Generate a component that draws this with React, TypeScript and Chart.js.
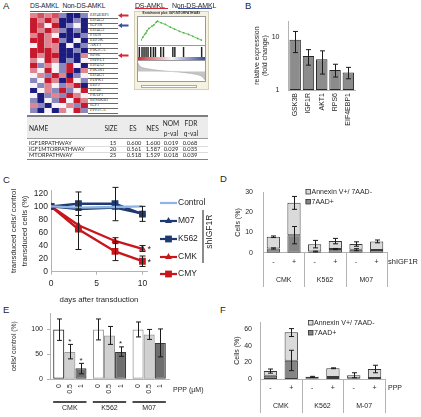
import React, { useEffect, useRef } from 'react';
import { Chart, registerables } from 'chart.js';

Chart.register(...registerables);

const SANS = '"Liberation Sans", Arial, sans-serif';
const SERIF = '"Liberation Serif", "DejaVu Serif", serif';
const TFONT = 'Lato, "Open Sans", sans-serif';
const INK = '#262626';
const AXIS = '#b3b3b3';

Chart.defaults.font.family = SANS;
Chart.defaults.color = INK;

// ---------------- DATA ----------------
// Panel A heatmap
const HEAT_GENES = ['EIF4EBP1', 'EIF4G2', 'IGF1R', 'EIF4G3', 'PTEN', 'EEF2K', 'AKT1', 'PIK3CA', 'RPS6', 'INPPL1',
  'EIF4A2', 'PIK3R1', 'EIF4G1', 'PDPK1', 'EEF2', 'EIF4E', 'FRAP1', 'RPS6KB1', 'IGF1', 'PPP2CA'];
const HEAT_SAMPLES = ['DS1', 'DS2', 'DS3', 'DS4', 'NDS1', 'NDS2', 'NDS3', 'NDS4'];
const HEAT_VALUES = [
  [1, 1.5, 1, 1.5, -1, -2, -2, -1],
  [2, 1, 2, 1, -2, -2, -1, -2],
  [2, 1.5, 0, 2, -2, -1, 0, -2],
  [2, 1, 2, 1, -1, -2, -1, -2],
  [1, 2, 1, 0, -2, -2, -2, -1],
  [2, 2, 1, 2, -1, -2, 0, -2],
  [0, 2, 1, 1, -2, 0, -2, -1],
  [2, 2, 2, 1, -2, -2, -1, -2],
  [2, 1, 2, 2, -2, -2, -2, 1],
  [1, 0, 2, 1, -2, -1, -2, 0],
  [2, -1, 1, 0, -1, 2, 0, -2],
  [1, 0, 2, 0, -1, 2, -2, 1],
  [0, 1, -1, 2, 1, -2, -1, 0],
  [-1, 0, 2, 1, -2, 2, 0, -1],
  [0, -1, 1, 0, -1, 1, 2, -2],
  [-2, 0, 1, -1, 2, -1, 0, 2],
  [0, -2, -1, 1, -1, 2, 1, 0],
  [-1, -2, 0, -1, 2, 0, 2, 1],
  [1, -1, -2, 0, 0, 1, -1, 2],
  [-1, -2, 0, -2, 1, 0, 2, -1],
];
const ARROW_ROWS = [0, 2, 8];
const ARROW_COLORS = ['#d42a34', '#3b4ea0', '#d42a34'];

// GSEA enrichment plot
const GSEA_RANK = [0, 3, 6, 8, 10, 13, 18, 21, 25, 27, 33, 40, 48, 55, 63, 70, 78, 85, 93, 99];
const GSEA_ES = [0.0, 0.09, 0.18, 0.22, 0.3, 0.37, 0.44, 0.48, 0.57, 0.6, 0.55, 0.5, 0.41, 0.35, 0.28, 0.23, 0.18, 0.12, 0.05, 0.0];
const GSEA_HITS = [2, 6, 9, 12, 15, 19, 23, 26, 34, 38, 52, 55, 68, 95];
const GSEA_METRIC_RANK = [0, 2, 5, 10, 20, 30, 40, 50, 60, 70, 80, 90, 95, 98, 100];
const GSEA_METRIC = [0.9, 0.6, 0.45, 0.35, 0.22, 0.12, 0.05, 0, -0.05, -0.12, -0.22, -0.35, -0.5, -0.7, -0.9];

// Table
const TABLE_NAMES = ['IGF1RPATHWAY', 'IGF1MTORPATHWAY', 'MTORPATHWAY'];
const TABLE_SIZE = ['15', '20', '25'];
const TABLE_ES = ['0.600', '0.561', '0.518'];
const TABLE_NES = ['1.600', '1.587', '1.529'];
const TABLE_NOM = ['0.019', '0.029', '0.018'];
const TABLE_FDR = ['0.068', '0.035', '0.039'];

// Panel B
const B_GENES = ['GSK3B', 'IGF1R', 'AKT1', 'RPS6', 'EIF4EBP1'];
const B_FOLD = [8.9, 4.4, 3.8, 2.4, 2.15];
const B_ERR: [number, number][] = [[5.1, 12.8], [2.95, 5.8], [2.0, 5.5], [1.76, 3.07], [1.63, 2.68]];
const B_TICKS = [1, 10];

// Panel C
const C_DAYS = [0, 3, 7, 10];
const C_CONTROL = [100, 98, 99, 100];
const C_M07 = [100, 96, 98, 89];
const C_K562 = [100, 104, 104, 88];
const C_CMK = [100, 71, 47, 35];
const C_CMY = [100, 65, 31, 16];
const C_K562_ERR = [null, [86, 122], [78, 129], [77, 100]];
const C_CMK_ERR = [null, null, [43, 52], [31, 40]];
const C_CMY_ERR = [null, [34, 96], [17, 46], [8, 24]];
const C_TICKS_Y = [0, 20, 40, 60, 80, 100, 120];
const C_TICKS_X = [0, 5, 10];

// Panel D
const D_GROUPS = ['CMK', 'K562', 'M07'];
const D_SUB = ['-', '+', '-', '+', '-', '+'];
const D_7AAD = [2.1, 8.7, 0.6, 1.8, 1.5, 1.4];
const D_ANNEXIN = [5.8, 16.1, 3.6, 4.0, 2.8, 4.2];
const D_ERR_TOTAL = [[7.5, 8.3], [21.5, 27.9], [2.4, 6.1], [4.4, 7.1], [3.2, 5.4], [4.9, 6.3]];
const D_ERR_7AAD = [[1.8, 2.4], [4.4, 13], [0.4, 0.8], [1.5, 2.1], [1.0, 2.0], null];

// Panel E
const E_GROUPS = ['CMK', 'K562', 'M07'];
const E_DOSES = ['0', '0.5', '1'];
const E_DOSE0 = [100, 100, 100];
const E_DOSE05 = [55, 88, 90];
const E_DOSE1 = [22, 55, 73];
const E_ERR0 = [[78, 121], [79, 121], [85, 115]];
const E_ERR05 = [[41, 70], [70, 106], [80, 100]];
const E_ERR1 = [[11, 32], [46, 65], [45, 101]];
const E_STARS = [[1, 0], [2, 0], [2, 1]];

// Panel F
const F_GROUPS = ['CMK', 'K562', 'M-07'];
const F_SUB = ['-', '+', '-', '+', '-', '+'];
const F_7AAD = [3.8, 22, 0.9, 2.3, 0.9, 1.3];
const F_ANNEXIN = [5.7, 34, 1.7, 10.7, 3.6, 10.7];
const F_ERR_TOTAL = [[7, 12], [51, 60.5], [2, 3.2], [12.4, 13.4], [1.5, 7.5], [7.5, 16.5]];
const F_ERR_7AAD = [null, [10, 34.5], null, null, null, null];

// ---------------- HELPERS ----------------
function heatColor(v: number) {
  const t = Math.max(-1, Math.min(1, v / 2));
  const w = [246, 242, 246];
  const tgt = t > 0 ? [200, 24, 44] : [28, 28, 128];
  const k = Math.abs(t);
  const c = w.map((x, i) => Math.round(x + (tgt[i] - x) * k));
  return `rgb(${c[0]},${c[1]},${c[2]})`;
}

function errorPlugin(list: { ds: number; err: any[]; color?: string; cap?: number }[]) {
  return {
    id: 'errbars',
    afterDatasetsDraw(chart: any) {
      const ctx = chart.ctx;
      list.forEach(({ ds, err, color, cap }) => {
        const meta = chart.getDatasetMeta(ds);
        const ys = chart.scales[meta.yAxisID];
        ctx.save();
        ctx.strokeStyle = color || '#1a1a1a';
        ctx.lineWidth = 1;
        meta.data.forEach((el: any, i: number) => {
          const e = err[i];
          if (!e) return;
          const x = Math.round(el.x) + 0.5;
          const y1 = ys.getPixelForValue(e[0]);
          const y2 = ys.getPixelForValue(e[1]);
          const c = cap ?? 2.5;
          ctx.beginPath();
          ctx.moveTo(x, y1); ctx.lineTo(x, y2);
          ctx.moveTo(x - c, y1); ctx.lineTo(x + c, y1);
          ctx.moveTo(x - c, y2); ctx.lineTo(x + c, y2);
          ctx.stroke();
        });
        ctx.restore();
      });
    },
  };
}

function drawMarker(ctx: any, style: string, x: number, y: number, r: number, color: string) {
  ctx.fillStyle = color;
  ctx.beginPath();
  if (style === 'rect') {
    const s = Math.SQRT1_2 * r;
    ctx.rect(x - s, y - s, 2 * s, 2 * s);
  } else if (style === 'triangle') {
    ctx.moveTo(x, y - r);
    ctx.lineTo(x + 0.866 * r, y + 0.5 * r);
    ctx.lineTo(x - 0.866 * r, y + 0.5 * r);
    ctx.closePath();
  }
  ctx.fill();
}

const base = (extra: any = {}) => ({
  responsive: false,
  animation: false,
  events: [],
  plugins: { legend: { display: false }, tooltip: { enabled: false } },
  ...extra,
});

function ChartCanvas({ x, y, w, h, make }: any) {
  const ref = useRef<HTMLCanvasElement>(null);
  useEffect(() => {
    const c = new Chart(ref.current as HTMLCanvasElement, make());
    return () => c.destroy();
  }, []);
  return (
    <canvas ref={ref} width={w} height={h}
      style={{ position: 'absolute', left: x, top: y, width: w, height: h }} />
  );
}

function T({ x, y, s, c = INK, a = 'l', f = SANS, b = false, ls = 0, children }: any) {
  const tx = a === 'c' ? '-50%' : a === 'r' ? '-100%' : '0';
  return (
    <div style={{
      position: 'absolute', left: x, top: y, fontSize: s, lineHeight: 1, fontFamily: f, color: c,
      whiteSpace: 'nowrap', fontWeight: b ? 'bold' : 'normal', letterSpacing: ls,
      transform: `translate(${tx},-50%)`,
    }}>{children}</div>
  );
}

function Rect({ x, y, w, h, bg, style = {} }: any) {
  return <div style={{ position: 'absolute', left: x, top: y, width: w, height: h, background: bg, ...style }} />;
}

// ---------------- CHART CONFIGS ----------------
const heatConfig = () => ({
  type: 'bar',
  data: {
    labels: HEAT_SAMPLES,
    datasets: HEAT_VALUES.map((row, r) => ({
      label: HEAT_GENES[r],
      data: row.map(() => 1),
      backgroundColor: row.map(heatColor),
      borderColor: 'rgba(190,190,200,0.55)',
      borderWidth: 0.4,
      borderSkipped: false,
      barPercentage: 1,
      categoryPercentage: 1,
    })).reverse(),
  },
  options: base({
    layout: { padding: 0 },
    scales: {
      x: { display: false, stacked: true },
      y: { display: false, stacked: true, min: 0, max: HEAT_GENES.length },
    },
  }),
});

const esConfig = () => ({
  type: 'line',
  data: {
    datasets: [{
      data: GSEA_RANK.map((x, i) => ({ x, y: GSEA_ES[i] })),
      borderColor: '#4fb848', borderWidth: 0.8, pointRadius: 0.9,
      pointBackgroundColor: '#4fb848', pointBorderWidth: 0,
    }],
  },
  options: base({
    layout: { padding: { left: 1, right: 1, top: 1, bottom: 1 } },
    scales: {
      x: { type: 'linear', min: 0, max: 100, display: false },
      y: { min: -0.03, max: 0.64, display: false },
    },
  }),
});

const hitsConfig = () => ({
  type: 'bar',
  data: { datasets: [{ data: GSEA_HITS.map((x) => ({ x, y: 1 })), backgroundColor: '#222', barThickness: 0.8 }] },
  options: base({
    layout: { padding: { left: 1, right: 1, top: 1, bottom: 0 } },
    scales: {
      x: { type: 'linear', min: 0, max: 100, display: false, offset: false },
      y: { min: 0, max: 1, display: false },
    },
  }),
});

const rankConfig = () => ({
  type: 'line',
  data: {
    datasets: [{
      data: GSEA_METRIC_RANK.map((x, i) => ({ x, y: GSEA_METRIC[i] })),
      borderColor: '#9a9a9a', borderWidth: 0.5, pointRadius: 0, fill: 'origin', backgroundColor: '#c4c4c4',
    }],
  },
  options: base({
    layout: { padding: { left: 1, right: 1, top: 1, bottom: 1 } },
    scales: {
      x: { type: 'linear', min: 0, max: 100, display: false },
      y: { min: -1, max: 1, display: false },
    },
  }),
});

const bConfig = () => ({
  type: 'bar',
  data: {
    labels: B_GENES,
    datasets: [{
      data: B_FOLD, backgroundColor: '#8c8c8c', borderColor: '#262626', borderWidth: 1,
      borderSkipped: false, barPercentage: 0.86, categoryPercentage: 1,
    }],
  },
  plugins: [errorPlugin([{ ds: 0, err: B_ERR, cap: 2.5 }])],
  options: base({
    layout: { padding: { left: 0, right: 6, top: 8, bottom: 0 } },
    scales: {
      x: {
        grid: { display: false, drawTicks: false }, border: { color: AXIS },
        ticks: { font: { size: 7 }, minRotation: 90, maxRotation: 90, padding: 3, autoSkip: false },
        afterFit(s: any) { s.height = 46; },
      },
      y: {
        type: 'logarithmic', min: 1, max: 20,
        grid: { display: false, drawTicks: false }, border: { color: AXIS },
        ticks: { font: { size: 7 }, padding: 9, callback: (v: any) => String(v) },
        afterBuildTicks(s: any) { s.ticks = B_TICKS.map((v) => ({ value: v })); },
        title: { display: true, text: ['relative expression', '(fold change)'], font: { size: 7 }, padding: { top: 16.8, bottom: 0 } },
        afterFit(s: any) { s.width = 52.5; },
      },
    },
  }),
});

const C_SERIES = [
  { label: 'Control', values: C_CONTROL, color: '#8eb4e3', style: 'circle', radius: 0 },
  { label: 'M07', values: C_M07, color: '#1f3a6e', style: 'triangle', radius: 4 },
  { label: 'K562', values: C_K562, color: '#1f3a6e', style: 'rect', radius: 4.8 },
  { label: 'CMK', values: C_CMK, color: '#c8161d', style: 'triangle', radius: 4 },
  { label: 'CMY', values: C_CMY, color: '#c8161d', style: 'rect', radius: 4.8 },
];

const cConfig = () => ({
  type: 'line',
  data: {
    datasets: C_SERIES.map((s) => ({
      label: s.label,
      data: C_DAYS.map((d, i) => ({ x: d, y: s.values[i] })),
      borderColor: s.color, backgroundColor: s.color, borderWidth: 2.4,
      pointStyle: s.style, pointRadius: s.radius, pointBackgroundColor: s.color, pointBorderWidth: 0,
    })),
  },
  plugins: [
    errorPlugin([
      { ds: 2, err: C_K562_ERR, cap: 3 },
      { ds: 3, err: C_CMK_ERR, cap: 3 },
      { ds: 4, err: C_CMY_ERR, cap: 3 },
    ]),
    {
      id: 'cExtras',
      afterDraw(chart: any) {
        const ctx = chart.ctx;
        const ys = [23, 41, 59, 77, 94];
        C_SERIES.forEach((s, i) => {
          const y = ys[i];
          ctx.save();
          ctx.strokeStyle = s.color; ctx.lineWidth = 2.2;
          ctx.beginPath(); ctx.moveTo(160, y); ctx.lineTo(177, y); ctx.stroke();
          if (s.radius > 0) drawMarker(ctx, s.style, 168.5, y, s.radius, s.color);
          ctx.fillStyle = INK; ctx.font = `8.5px ${SANS}`; ctx.textBaseline = 'middle'; ctx.textAlign = 'left';
          ctx.fillText(s.label, 178, y);
          ctx.restore();
        });
        ctx.save();
        ctx.fillStyle = '#8c8c8c';
        ctx.fillRect(202, 30, 2, 53);
        ctx.fillStyle = INK; ctx.font = `8.5px ${SANS}`;
        ctx.translate(210, 51.7); ctx.rotate(-Math.PI / 2);
        ctx.textAlign = 'center'; ctx.textBaseline = 'middle';
        ctx.fillText('shIGF1R', 0, 0);
        ctx.restore();
        ctx.save();
        ctx.fillStyle = INK; ctx.font = `9px ${SANS}`; ctx.textAlign = 'left'; ctx.textBaseline = 'middle';
        [3, 4].forEach((di) => {
          const el = chart.getDatasetMeta(di).data[3];
          ctx.fillText('*', el.x + 5, el.y + 1);
        });
        ctx.restore();
      },
    },
  ],
  options: base({
    layout: { padding: { left: 0, right: 68, top: 10, bottom: 0 } },
    scales: {
      x: {
        type: 'linear', min: 0, max: 10.5,
        grid: { display: true, drawOnChartArea: false, drawTicks: true, tickLength: 3, color: AXIS },
        border: { color: AXIS },
        ticks: { font: { size: 8.5 }, padding: 4 },
        afterBuildTicks(s: any) { s.ticks = C_TICKS_X.map((v) => ({ value: v })); },
        title: { display: true, text: 'days after transduction', font: { size: 7.8 }, padding: { top: 0, bottom: 1.2 } },
        afterFit(s: any) { s.height = 34.3; },
      },
      y: {
        min: 0, max: 125,
        grid: { display: false, drawTicks: false }, border: { color: AXIS },
        ticks: { font: { size: 8.5 }, padding: 3 },
        afterBuildTicks(s: any) { s.ticks = C_TICKS_Y.map((v) => ({ value: v })); },
        title: {
          display: true, text: ['transduced cells/ control', 'transduced cells (%)'],
          font: { size: 7.8, lineHeight: 1.4 }, padding: { top: 8.5, bottom: 0 },
        },
        afterFit(s: any) { s.width = 51; },
      },
    },
  }),
});

function stackedConfig(p: any) {
  return () => ({
    type: 'bar',
    data: {
      labels: p.sub.map((s: string, i: number) => `${p.groups[Math.floor(i / 2)]} ${s}`),
      datasets: [
        { label: '7AAD+', data: p.aad, backgroundColor: '#858585', borderColor: '#3a3a3a', borderWidth: 1, borderSkipped: false, barPercentage: 0.64, categoryPercentage: 1 },
        { label: 'Annexin V+/ 7AAD-', data: p.annexin, backgroundColor: '#dadada', borderColor: '#3a3a3a', borderWidth: 1, borderSkipped: false, barPercentage: 0.64, categoryPercentage: 1 },
      ],
    },
    plugins: [
      errorPlugin([{ ds: 0, err: p.err7, cap: 2.5 }, { ds: 1, err: p.errTotal, cap: 2.5 }]),
      {
        id: 'groupAxis',
        afterDraw(chart: any) {
          const { ctx, chartArea } = chart;
          const xs = chart.scales.x;
          const n = p.sub.length;
          const step = xs.getPixelForValue(1) - xs.getPixelForValue(0);
          ctx.save();
          ctx.font = `7px ${SANS}`; ctx.fillStyle = INK; ctx.textAlign = 'center'; ctx.textBaseline = 'middle';
          for (let i = 0; i < n; i++) ctx.fillText(p.sub[i], xs.getPixelForValue(i), p.subY);
          const per = n / p.groups.length;
          ctx.strokeStyle = AXIS; ctx.lineWidth = 1;
          for (let g = 0; g <= p.groups.length; g++) {
            const bx = Math.round(xs.getPixelForValue(g * per) - step / 2) + 0.5;
            ctx.beginPath(); ctx.moveTo(bx, chartArea.bottom); ctx.lineTo(bx, p.sepBottom); ctx.stroke();
          }
          p.groups.forEach((g: string, gi: number) => {
            const cx = (xs.getPixelForValue(gi * per) + xs.getPixelForValue(gi * per + per - 1)) / 2;
            ctx.fillText(g, cx, p.groupY);
          });
          ctx.textAlign = 'left';
          ctx.font = `${p.sideSize}px ${SANS}`;
          ctx.fillText(p.side, p.sideX, p.subY);
          const items = [chart.data.datasets[1], chart.data.datasets[0]];
          items.forEach((ds: any, k: number) => {
            const y = p.legY + k * p.legDy;
            ctx.fillStyle = ds.backgroundColor;
            ctx.fillRect(p.legX, y - 2.5, 5, 5);
            ctx.strokeStyle = '#3a3a3a'; ctx.lineWidth = 0.8;
            ctx.strokeRect(p.legX + 0.5, y - 2, 4.5, 4.5);
            ctx.fillStyle = INK; ctx.font = `7px ${SANS}`;
            ctx.fillText(ds.label, p.legX + 6, y + 0.5);
          });
          ctx.restore();
        },
      },
    ],
    options: base({
      layout: { padding: { left: 0, right: p.padRight, top: p.padTop, bottom: 0 } },
      scales: {
        x: {
          stacked: true, grid: { display: false, drawTicks: false }, border: { color: AXIS },
          ticks: { display: false },
          afterFit(s: any) { s.height = p.xHeight; },
        },
        y: {
          stacked: true, min: 0, max: p.yMax,
          grid: { display: false, drawTicks: false }, border: { color: AXIS },
          ticks: { font: { size: 7 }, padding: p.tickPad },
          afterBuildTicks(s: any) { s.ticks = p.yTicks.map((v: number) => ({ value: v })); },
          title: { display: true, text: 'Cells (%)', font: { size: 7 }, padding: { top: p.titlePad, bottom: 0 } },
          afterFit(s: any) { s.width = p.yWidth; },
        },
      },
    }),
  });
}

const dConfig = stackedConfig({
  groups: D_GROUPS, sub: D_SUB, aad: D_7AAD, annexin: D_ANNEXIN, errTotal: D_ERR_TOTAL, err7: D_ERR_7AAD,
  yMax: 30, yTicks: [0, 10, 20, 30], padTop: 5.3, padRight: 34, xHeight: 37.3, yWidth: 41, tickPad: 10, titlePad: 11.5,
  subY: 84, groupY: 102, sepBottom: 109, side: 'shIGF1R', sideX: 166, sideSize: 7.5, legX: 83.5, legY: 13.5, legDy: 10,
});

const fConfig = stackedConfig({
  groups: F_GROUPS, sub: F_SUB, aad: F_7AAD, annexin: F_ANNEXIN, errTotal: F_ERR_TOTAL, err7: F_ERR_7AAD,
  yMax: 68.2, yTicks: [0, 20, 40, 60], padTop: 5, padRight: 36, xHeight: 38, yWidth: 38, tickPad: 8, titlePad: 10.5,
  subY: 78, groupY: 96, sepBottom: 103, side: 'PPP', sideX: 166, sideSize: 7, legX: 86, legY: 12.5, legDy: 10,
});

const eConfig = () => ({
  type: 'bar',
  data: {
    labels: E_GROUPS,
    datasets: [
      { label: E_DOSES[0], data: E_DOSE0, backgroundColor: '#ffffff', borderColor: ['#3a3a3a', '#9a9a9a', '#9a9a9a'] },
      { label: E_DOSES[1], data: E_DOSE05, backgroundColor: '#d0d0d0', borderColor: '#9a9a9a' },
      { label: E_DOSES[2], data: E_DOSE1, backgroundColor: '#6e6e6e', borderColor: '#3a3a3a' },
    ].map((d) => ({ ...d, borderWidth: 1.2, borderSkipped: false, barPercentage: 1, categoryPercentage: 0.84 })),
  },
  plugins: [
    errorPlugin([{ ds: 0, err: E_ERR0, cap: 2.5 }, { ds: 1, err: E_ERR05, cap: 2.5 }, { ds: 2, err: E_ERR1, cap: 2.5 }]),
    {
      id: 'eAxis',
      afterDraw(chart: any) {
        const ctx = chart.ctx;
        const ys = chart.scales.y;
        const errs = [E_ERR0, E_ERR05, E_ERR1];
        ctx.save();
        ctx.fillStyle = INK; ctx.font = `7px ${SANS}`;
        chart.data.datasets.forEach((ds: any, di: number) => {
          chart.getDatasetMeta(di).data.forEach((el: any) => {
            ctx.save();
            ctx.translate(el.x, 79); ctx.rotate(-Math.PI / 2);
            ctx.textAlign = 'right'; ctx.textBaseline = 'middle';
            ctx.fillText(ds.label, 0, 0);
            ctx.restore();
          });
        });
        const m0 = chart.getDatasetMeta(0).data;
        const m2 = chart.getDatasetMeta(2).data;
        ctx.strokeStyle = '#111'; ctx.lineWidth = 1.3;
        E_GROUPS.forEach((g, gi) => {
          const l = m0[gi].x - m0[gi].width / 2;
          const r = m2[gi].x + m2[gi].width / 2;
          ctx.beginPath(); ctx.moveTo(l, 97); ctx.lineTo(r, 97); ctx.stroke();
          ctx.textAlign = 'center'; ctx.textBaseline = 'middle';
          ctx.fillText(g, (l + r) / 2, 103.5);
        });
        ctx.textAlign = 'left'; ctx.textBaseline = 'middle';
        ctx.fillText('PPP (\u00b5M)', 173, 85);
        ctx.font = `8px ${SANS}`; ctx.textAlign = 'center';
        E_STARS.forEach(([di, gi]) => {
          const el = chart.getDatasetMeta(di).data[gi];
          ctx.fillText('*', el.x, ys.getPixelForValue(errs[di][gi][1]) - 3);
        });
        ctx.restore();
      },
    },
  ],
  options: base({
    layout: { padding: { left: 0, right: 46, top: 8, bottom: 0 } },
    scales: {
      x: {
        grid: { display: false, drawTicks: false }, border: { color: AXIS }, ticks: { display: false },
        afterFit(s: any) { s.height = 37.7; },
      },
      y: {
        min: 0, max: 132.6,
        grid: { display: true, drawOnChartArea: false, drawTicks: true, tickLength: 3, color: AXIS },
        border: { color: AXIS },
        ticks: { font: { size: 7 }, padding: 4 },
        afterBuildTicks(s: any) { s.ticks = [0, 50, 100].map((v) => ({ value: v })); },
        title: { display: true, text: 'cells/ control (%)', font: { size: 6.8 }, padding: { top: 10.5, bottom: 0 } },
        afterFit(s: any) { s.width = 50; },
      },
    },
  }),
});

// ---------------- APP ----------------
export default function App() {
  const headerCols = [
    { x: 111, t1: 'SIZE' }, { x: 133, t1: 'ES' }, { x: 152.5, t1: 'NES' },
  ];
  const dataCols = [TABLE_SIZE, TABLE_ES, TABLE_NES, TABLE_NOM, TABLE_FDR];
  const dataX = [113, 134, 153, 171, 190];
  return (
    <div style={{ position: 'absolute', left: 0, top: 0, width: 421, height: 417, background: '#fff', overflow: 'hidden' }}>
      <T x={3} y={6} s={9.5}>A</T>
      <T x={245} y={6} s={9.5}>B</T>
      <T x={3} y={180} s={9.5}>C</T>
      <T x={220} y={178.5} s={9.5}>D</T>
      <T x={3} y={310} s={9.5}>E</T>
      <T x={220} y={310} s={9.5}>F</T>

      {/* A header */}
      <T x={30} y={5.5} s={6.8} ls={-0.2}>DS-AMKL</T>
      <T x={62.5} y={5.5} s={6.8} ls={-0.2}>Non-DS-AMKL</T>
      <Rect x={30} y={10.5} w={30} h={1.3} bg="#d42a34" />
      <Rect x={62} y={10.5} w={27} h={1.3} bg="#3b4ea0" />

      <ChartCanvas x={30} y={13} w={58} h={100} make={heatConfig} />
      {HEAT_GENES.map((g, i) => (
        <React.Fragment key={g}>
          <T x={90} y={13 + 5 * i + 2.4} s={4.4} f={SERIF} c="#333">{g}</T>
          <Rect x={88} y={13 + 5 * (i + 1) - 0.3} w={30} h={0.5} bg="#6a6a6a" />
        </React.Fragment>
      ))}
      <svg width={421} height={417} style={{ position: 'absolute', left: 0, top: 0, pointerEvents: 'none' }}>
        {ARROW_ROWS.map((r, k) => {
          const y = 13 + 5 * r + 2.5;
          return (
            <polygon key={r} fill={ARROW_COLORS[k]}
              points={`118,${y} 122,${y - 2.6} 122,${y - 1} 128.5,${y - 1} 128.5,${y + 1} 122,${y + 1} 122,${y + 2.6}`} />
          );
        })}
      </svg>

      {/* GSEA */}
      <T x={135} y={4.5} s={7} ls={-0.2}>DS-AMKL</T>
      <T x={172} y={4.5} s={7} ls={-0.2}>Non-DS-AMKL</T>
      <Rect x={135} y={8.3} w={33} h={1.2} bg="#d42a34" />
      <Rect x={178} y={8.3} w={34} h={1.2} bg="#3b4ea0" />
      <Rect x={134} y={11} w={75} h={79} bg="#f6f2e1" style={{ border: '0.5px solid #d6d0b8', boxSizing: 'border-box' }} />
      <T x={171.5} y={14} s={3.2} a="c" b>Enrichment plot: IGF1MTORPATHWAY</T>
      <Rect x={137} y={16} w={69} h={66} bg="#ffffff" style={{ border: '0.5px solid #9a9a9a', boxSizing: 'border-box' }} />
      <ChartCanvas x={137} y={16} w={69} h={29} make={esConfig} />
      <Rect x={137} y={45} w={69} h={0.5} bg="#9a9a9a" />
      <ChartCanvas x={137} y={45.5} w={69} h={11.5} make={hitsConfig} />
      <Rect x={138} y={57} w={67} h={3} bg="linear-gradient(to right, #d42a34, #f0b8c0 35%, #f6f6f6 50%, #b8bde0 65%, #3b4ea0)" />
      <Rect x={137} y={60.2} w={69} h={0.5} bg="#9a9a9a" />
      <ChartCanvas x={137} y={60.5} w={69} h={21.5} make={rankConfig} />
      <Rect x={141} y={84.5} w={56} h={3.5} bg="#ffffff" style={{ border: '0.5px solid #aaa', boxSizing: 'border-box' }} />

      {/* Table */}
      <Rect x={27} y={115} w={181} h={1.5} bg="#7f7f7f" />
      <Rect x={27} y={116.5} w={181} h={21} bg="#ececec" />
      <Rect x={27} y={137.5} w={181} h={1} bg="#9a9a9a" />
      <Rect x={27} y={145.5} w={181} h={0.5} bg="#dcdcdc" />
      <Rect x={27} y={152} w={181} h={0.5} bg="#dcdcdc" />
      <Rect x={27} y={158.5} w={181} h={1.5} bg="#7f7f7f" />
      <T x={29} y={127.5} s={6.6} f={TFONT}>NAME</T>
      {headerCols.map((h) => <T key={h.t1} x={h.x} y={127.5} s={6.6} f={TFONT} a="c">{h.t1}</T>)}
      <T x={171} y={122.5} s={6.6} f={TFONT} a="c">NOM</T>
      <T x={171} y={132.5} s={6.6} f={TFONT} a="c">p-val</T>
      <T x={191} y={122.5} s={6.6} f={TFONT} a="c">FDR</T>
      <T x={191} y={132.5} s={6.6} f={TFONT} a="c">q-val</T>
      {TABLE_NAMES.map((n, r) => (
        <React.Fragment key={n}>
          <T x={29} y={142.5 + 6.4 * r} s={5.7} f={TFONT}>{n}</T>
          {dataCols.map((col, c) => (
            <T key={c} x={dataX[c]} y={142.5 + 6.4 * r} s={5.7} f={TFONT} a="c">{col[r]}</T>
          ))}
        </React.Fragment>
      ))}

      <ChartCanvas x={236} y={8} w={125} h={128} make={bConfig} />
      <ChartCanvas x={0} y={180} w={215} h={126} make={cConfig} />
      <ChartCanvas x={222} y={178} w={199} h={112} make={dConfig} />
      <ChartCanvas x={0} y={305} w={215} h={112} make={eConfig} />
      <ChartCanvas x={222} y={310} w={199} h={107} make={fConfig} />
    </div>
  );
}
